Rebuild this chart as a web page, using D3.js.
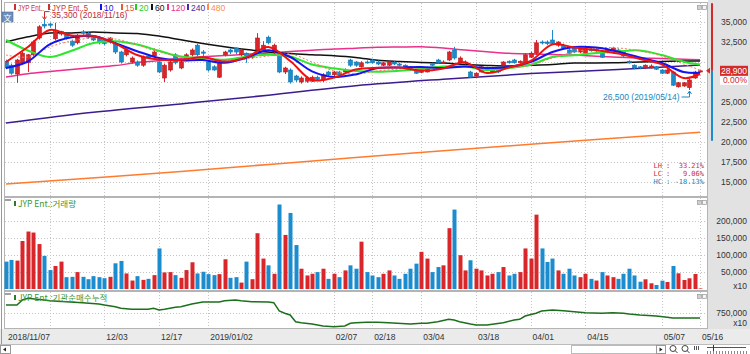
<!DOCTYPE html>
<html>
<head>
<meta charset="utf-8">
<script src="https://cdn.jsdelivr.net/npm/d3@7"></script>
<style>
body { margin: 0; background: #fff; }
svg { display: block; }
.num { font-family: "Liberation Sans", Arial, sans-serif; font-size: 8.5px; fill: #333; }
.kr { font-family: "Noto Sans CJK KR", sans-serif; font-size: 8.5px; }
.mono { font-family: "DejaVu Sans Mono", monospace; font-size: 7px; }
</style>
</head>
<body>
<svg id="chart" width="750" height="354"></svg>
<script>
// ---- data ----
var opens  = [30100,29600,28500,29900,29900,30900,33000,34700,34750,32900,33500,33400,32600,32400,33750,33600,33100,33000,32700,32500,32350,31250,30900,30000,30000,29600,30750,30750,30000,28000,29000,30900,29250,30250,30900,32100,31250,30000,29400,28100,30900,31500,31750,30900,31100,30600,31500,31500,33100,31250,31100,28750,29000,28250,27500,27600,27600,28100,27750,28750,28400,28750,28750,30250,30000,29400,30000,30250,30000,29600,29600,30000,29750,29600,29400,29000,28700,28750,29750,30250,29900,30250,31500,30000,29900,28750,28250,28750,29000,28750,29250,29600,30100,30250,29900,29900,30600,31100,32500,32500,32750,32100,32100,31500,31750,31250,31100,31600,31400,31100,31250,31500,31500,31250,30100,29600,29400,29250,29250,29400,29000,28600,28750,26900,27000,26800,28000,28750];
var highs  = [30300,29800,30400,31300,31000,32700,34600,35300,34900,34900,33900,33600,32800,33500,34000,33800,33300,33200,32900,33100,32500,31400,31700,30700,30200,30800,30900,31700,30100,29800,30200,31100,30200,31100,31700,32300,31500,30200,29600,30100,31400,31700,31800,31700,31200,31000,33600,32600,33300,32300,31300,29400,29200,28400,28200,28200,28300,28300,28600,28900,28900,28900,29200,30400,30100,30100,30200,30400,30200,30000,30100,30100,29900,29700,29500,29100,29100,29400,29900,30400,30200,31400,31900,30700,30200,28900,28700,29500,29400,29400,29400,30100,30200,30400,30200,31100,31300,32750,32700,32700,34000,32600,32300,31700,31900,31900,31800,31800,31700,31200,31700,31900,31700,31300,30200,29700,29500,29700,29700,29500,29100,29100,28900,27500,27500,27900,28900,28950];
var lows   = [29100,28400,27400,29700,28750,30700,32800,34200,34300,32700,33300,32800,31900,32200,33400,32900,32600,32200,32100,32300,31000,29800,30700,29800,29400,29400,30400,30600,28600,27500,28800,29700,29100,30100,30700,30700,30700,28800,28900,28000,30700,31000,31000,30700,29900,30400,31300,31300,32200,31000,28600,28500,27300,27500,27300,27400,27500,27700,27500,28200,28200,28300,28600,29400,29400,29300,29800,29800,29600,29500,29500,29600,29500,29300,28900,28500,28600,28700,29500,29800,29800,30100,30300,29900,29700,28000,28100,28700,28900,28600,28600,29500,29800,29800,29800,29800,30500,30900,32200,32100,32100,31900,31600,31000,31100,31100,31000,31300,31300,30500,31100,31400,31100,30600,29800,29100,29100,29100,29200,29000,28500,28500,27000,26800,26900,26500,27900,28700];
var closes = [29250,28600,30250,31100,30900,32500,34400,34500,34600,33800,33800,33000,32100,33300,33600,33100,32750,32400,32300,33000,31250,30000,31500,30500,29600,30600,30500,31250,28750,29600,30000,29900,30000,30900,31500,30900,31100,29000,29000,30000,31250,31250,31250,31500,30600,30900,33000,32100,32400,32100,28750,29250,27500,27750,28000,28000,28100,27800,28400,28400,28750,28400,29000,29600,29600,29900,29900,29900,29750,29900,30000,29750,29600,29400,29000,28600,28900,29250,29600,29900,30000,31250,30500,30500,30000,28100,28600,29400,29250,29250,28750,30000,29900,29900,30100,30900,31100,32400,32400,32300,32300,32500,31750,31100,31250,31750,31600,31400,31600,30600,31600,31750,31250,30750,29900,29250,29250,29600,29500,29100,28600,29000,27100,27400,27400,27750,28750,28900];
var volumes = [81000,86000,84000,142000,170000,167000,133000,98000,56000,68000,
  81000,35000,36000,50000,36000,29000,38000,35000,32000,36000,
  76000,83000,46000,25000,38000,27000,30000,41000,120000,49000,
  50000,41000,33000,56000,79000,46000,51000,44000,41000,44000,
  88000,33000,35000,19000,81000,29000,165000,90000,70000,45000,
  250000,160000,225000,130000,60000,40000,45000,50000,60000,30000,
  45000,35000,55000,70000,60000,140000,50000,40000,35000,45000,
  55000,40000,30000,45000,60000,75000,110000,90000,50000,65000,
  70000,180000,235000,100000,55000,85000,60000,55000,40000,45000,
  50000,65000,40000,45000,50000,120000,90000,220000,120000,80000,
  90000,55000,45000,60000,40000,35000,45000,30000,25000,50000,
  40000,35000,30000,45000,60000,40000,21600,28700,16900,11800,
  24600,20700,68000,46400,26600,31700,44400,1500];

// moving averages, read at these candle indices
var maIdx = [0,4,8,12,16,20,24,28,32,36,40,44,48,52,56,60,64,68,72,76,80,84,88,92,96,100,104,108,112,116,120,124,127];
var ma5   = [30000,31875,34000,33300,33250,32300,30875,30300,30250,30600,30050,30575,31875,30125,27750,28050,29050,29275,29300,28925,29200,29950,28625,29300,30125,32200,31800,31475,31050,30375,29700,28000,28500];
var ma10  = [29250,30063,32200,33088,33250,32350,31350,30500,30200,30250,29900,30538,31463,30625,28825,28125,28450,29250,29313,29375,29250,29438,29250,29375,30000,31250,31875,31800,31288,30563,29875,28750,28625];
var ma15  = [30875,30625,31875,32625,33000,32875,32125,31250,30625,30250,30125,30375,30750,31000,30000,28875,28500,28875,29125,29250,29250,29375,29250,29250,29625,30500,31250,31750,31750,31375,30750,29750,29000];
var ma20  = [32750,31438,30625,31413,32375,32600,32175,31400,30675,30500,30275,30663,30913,30688,29688,29213,28875,28775,28900,29138,29425,29425,28975,29250,29650,30625,30838,31125,31325,31438,30875,30038,29688];
var ma60  = [32500,33150,33625,33625,33750,33625,33563,33250,32775,32313,31900,31550,31250,31050,30913,30788,30575,30225,30063,29938,29875,29700,29575,29500,29588,29700,29875,29875,29913,30000,30075,30125,30125];
var ma120 = [28125,28538,28813,29063,29300,29550,29925,30163,30463,30650,30813,30963,31125,31300,31463,31625,31725,31838,31875,31900,31750,31500,31288,31088,31000,30938,30875,30713,30588,30500,30425,30338,30275];
var ma240Idx = [0,16,32,48,64,80,96,112,127];
var ma240 = [22375,23713,24763,25850,27025,27850,28550,29063,29625];
var ma480Idx = [0,32,64,96,127];
var ma480 = [14750,16313,18075,19725,21225];

// institutional net buying, cumulative
var instIdx = [0,2,3,4,7,8,11,14,17,18,20,21,23,26,27,28,29,31,32,34,36,39,40,42,43,45,48,49,50,51,52,53,54,56,58,60,62,63,64,66,68,70,74,76,77,79,81,82,83,85,86,88,89,91,93,94,95,97,98,100,102,104,106,109,111,113,114,116,119,121,122,127];
var instVal = [950000,950000,1075000,1117500,1075000,1057500,1032500,1007500,975000,950000,907500,867500,842500,842500,867500,825000,842500,892500,907500,975000,1025000,1025000,1057500,1075000,1057500,1032500,1025000,1007500,800000,745000,700000,532500,507500,475000,425000,407500,425000,492500,507500,517500,517500,507500,475000,492500,492500,532500,592500,575000,532500,475000,450000,450000,467500,507500,575000,592500,675000,742500,800000,825000,807500,782500,757500,742500,757500,742500,725000,700000,675000,642500,625000,625000];

var tickIdx    = [0,18,28,37,60,67,76,86,96,106,120,127];
var tickLabels = ["2018/11/07","12/03","12/17","2019/01/02","02/07","02/18","03/04","03/18","04/01","04/15","05/07","05/16"];
var gridIdx    = [8,18,28,37,60,67,76,86,96,106,120,127];

var priceTicks = [35000,32500,30000,27500,25000,22500,20000,17500,15000];
var volTicks   = [50000,100000,150000,200000];
var instTicks  = [750000];

var lastPrice = 28900, upperLimit = 37350, lowerLimit = 20150;
var highMark = {i: 7, v: 35300, label: "35,300 (2018/11/16)"};
var lowMark  = {i: 125, v: 26500, label: "26,500 (2019/05/14)"};
var statRows = ["LH :  33.21%", "LC :   9.06%", "HC : -18.13%"];
var legendNames = ["JYP Ent..", "JYP Ent..5", "10", "15", "20", "60", "120", "240", "480"];

// ---- layout ----
var N = closes.length;
var svg = d3.select("#chart");
var fmt = d3.format(",");
var UP = "#d9262a", DOWN = "#1b8ccd";
var panL = 4, panR = 707;
var main = {top: 2, bottom: 196}, vol = {top: 197, bottom: 290}, inst = {top: 291, bottom: 328};

var x = d3.scaleLinear().domain([0, 127]).range([6, 700]);
var yPrice = d3.scaleLinear().domain([15000, 35000]).range([182, 22]);
var yVol = d3.scaleLinear().domain([0, 200000]).range([289, 221.4]);
var yInst = d3.scaleLinear().domain([375000, 750000]).range([328, 313]);

// backgrounds
svg.append("rect").attr("width", 750).attr("height", 354).attr("fill", "#fff");
svg.append("rect").attr("x", 708).attr("y", 0).attr("width", 42).attr("height", 344).attr("fill", "#e2e2e2");
svg.append("rect").attr("x", 0).attr("y", 329).attr("width", 750).attr("height", 15).attr("fill", "#ebebeb");
svg.append("line").attr("x1", 1.5).attr("x2", 1.5).attr("y1", 0).attr("y2", 344).attr("stroke", "#7f9cc6");

[main, vol, inst].forEach(function(p) {
  svg.append("rect").attr("x", panL + 0.5).attr("y", p.top + 0.5)
    .attr("width", panR - panL).attr("height", p.bottom - p.top)
    .attr("fill", "#fff").attr("stroke", "#b4b4b4");
  [697, 702].forEach(function(bx, k) {
    svg.append("rect").attr("x", bx + 0.5).attr("y", p.top + 3.5).attr("width", 4).attr("height", 4)
      .attr("fill", k ? "#f4f4f4" : "#d0d0d0").attr("stroke", "#999").attr("stroke-width", 0.7);
  });
});

// gridlines
var grid = svg.append("g").attr("stroke", "#c4c4c4").attr("stroke-dasharray", "1,2");
grid.selectAll(".gp").data(priceTicks).enter().append("line")
  .attr("x1", panL + 1).attr("x2", panR).attr("y1", d => Math.round(yPrice(d)) + 0.5).attr("y2", d => Math.round(yPrice(d)) + 0.5);
grid.selectAll(".gv").data(volTicks).enter().append("line")
  .attr("x1", panL + 1).attr("x2", panR).attr("y1", d => Math.round(yVol(d)) + 0.5).attr("y2", d => Math.round(yVol(d)) + 0.5);
grid.selectAll(".gi").data(instTicks).enter().append("line")
  .attr("x1", panL + 1).attr("x2", panR).attr("y1", d => Math.round(yInst(d)) + 0.5).attr("y2", d => Math.round(yInst(d)) + 0.5);
[main, vol, inst].forEach(function(p) {
  grid.append("g").selectAll("line").data(gridIdx).enter().append("line")
    .attr("x1", i => Math.round(x(i)) + 0.5).attr("x2", i => Math.round(x(i)) + 0.5)
    .attr("y1", p.top + 1).attr("y2", p.bottom);
});

// clip for main panel
svg.append("clipPath").attr("id", "clipMain").append("rect")
  .attr("x", panL + 1).attr("y", main.top + 1).attr("width", panR - panL - 1).attr("height", main.bottom - main.top - 1);
var mainG = svg.append("g").attr("clip-path", "url(#clipMain)");

function maLine(idx, vals, color, w, dash) {
  var pts = idx.map((d, k) => [d, vals[k]]);
  mainG.append("path").datum(pts)
    .attr("d", d3.line().x(d => x(d[0])).y(d => yPrice(d[1])).curve(d3.curveCatmullRom))
    .attr("fill", "none").attr("stroke", color).attr("stroke-width", w)
    .attr("stroke-dasharray", dash || null);
}
// long moving averages (behind candles)
maLine(ma480Idx, ma480, "#ff7b2e", 1.5);
maLine(ma240Idx, ma240, "#3d1c8f", 1.5);
maLine(maIdx, ma120, "#ec2f8c", 1.5);
maLine(maIdx, ma60, "#111", 1.5);

// candles
var cg = mainG.append("g");
cg.selectAll("line").data(d3.range(N)).enter().append("line")
  .attr("x1", i => Math.round(x(i)) + 0.5).attr("x2", i => Math.round(x(i)) + 0.5)
  .attr("y1", i => yPrice(highs[i])).attr("y2", i => yPrice(lows[i]))
  .attr("stroke", i => closes[i] >= opens[i] ? UP : DOWN);
cg.selectAll("rect").data(d3.range(N)).enter().append("rect")
  .attr("x", i => Math.round(x(i)) - 1.5)
  .attr("y", i => yPrice(Math.max(opens[i], closes[i])))
  .attr("width", 4)
  .attr("height", i => Math.max(1, Math.abs(yPrice(opens[i]) - yPrice(closes[i]))))
  .attr("fill", i => closes[i] >= opens[i] ? UP : DOWN)
  .attr("stroke", i => closes[i] >= opens[i] ? "#b51d20" : "#1676ad").attr("stroke-width", 0.6);

// short moving averages
maLine(maIdx, ma20, "#2ee62e", 2);
maLine(maIdx, ma15, "#f47a5a", 1, "2,2");
maLine(maIdx, ma10, "#1414ee", 2);
maLine(maIdx, ma5, "#f01010", 2);

// legend (drawn before the high marker, which overlaps it as in the original)
var lgX = [14, 48, 100, 121, 135, 151, 167, 187, 207];
var lgW = [26, 36, 0, 0, 0, 0, 0, 0, 0];
var lgC = ["#c83232", "#c83232", "#1414ee", "#e85a3a", "#22d022", "#111", "#ec2f8c", "#4a2aa0", "#ff8a4a"];
var lg = svg.append("g");
legendNames.forEach(function(t, k) {
  lg.append("rect").attr("x", lgX[k]).attr("y", 4).attr("width", 2).attr("height", 6).attr("fill", lgC[k]);
  var tx = lg.append("text").attr("class", "num").attr("x", lgX[k] + 4).attr("y", 10.5).style("fill", lgC[k]).text(t);
  if (lgW[k]) tx.attr("textLength", lgW[k]).attr("lengthAdjust", "spacingAndGlyphs");
});
svg.append("rect").attr("x", 2).attr("y", 12).attr("width", 11).attr("height", 10).attr("fill", "#6f8fbd").attr("stroke", "#4a6a98").attr("stroke-width", 0.6);
svg.append("text").attr("class", "kr").attr("x", 7.5).attr("y", 20.5).attr("text-anchor", "middle").style("fill", "#fff").style("font-size", "8px").text("文");

// high / low markers
var hx = Math.round(x(highMark.i)) + 0.5, hy = yPrice(highMark.v);
svg.append("path").attr("d", "M" + (hx + 5) + "," + (hy - 8) + "H" + hx + "V" + (hy - 1))
  .attr("fill", "none").attr("stroke", "#c32a2a");
svg.append("path").attr("d", "M" + (hx - 2) + "," + (hy - 3) + "L" + hx + "," + hy + "L" + (hx + 2) + "," + (hy - 3))
  .attr("fill", "none").attr("stroke", "#c32a2a");
svg.append("text").attr("class", "num").attr("x", hx + 7).attr("y", hy - 2)
  .style("fill", "#c32a2a").text(highMark.label);

var lx = Math.round(x(lowMark.i)) + 0.5, ly = yPrice(lowMark.v);
svg.append("path").attr("d", "M" + (lx - 8) + "," + (ly + 7) + "H" + lx + "V" + (ly + 1))
  .attr("fill", "none").attr("stroke", "#2187c0");
svg.append("path").attr("d", "M" + (lx - 2) + "," + (ly + 4) + "L" + lx + "," + (ly + 1) + "L" + (lx + 2) + "," + (ly + 4))
  .attr("fill", "none").attr("stroke", "#2187c0");
svg.append("text").attr("class", "num").attr("x", lx - 10).attr("y", ly + 9.5).attr("text-anchor", "end")
  .style("fill", "#2187c0").text(lowMark.label);

// LH / LC / HC
svg.append("g").selectAll("text").data(statRows).enter().append("text")
  .attr("class", "mono").attr("x", 704).attr("y", (d, k) => 168 + k * 8).attr("text-anchor", "end")
  .attr("xml:space", "preserve")
  .style("fill", (d, k) => k < 2 ? "#c83232" : "#2187c0").text(d => d);

// price axis labels
svg.append("g").selectAll("text").data(priceTicks.filter(d => Math.abs(yPrice(d) - yPrice(lastPrice)) > 12)).enter().append("text")
  .attr("class", "num").attr("x", 747).attr("y", d => yPrice(d) + 3).attr("text-anchor", "end").text(d => fmt(d));

// limit band and current price tag
svg.append("rect").attr("x", 711).attr("y", yPrice(upperLimit)).attr("width", 2)
  .attr("height", yPrice(lastPrice) - yPrice(upperLimit)).attr("fill", "#d42a2a");
svg.append("rect").attr("x", 711).attr("y", yPrice(lastPrice)).attr("width", 2)
  .attr("height", yPrice(lowerLimit) - yPrice(lastPrice)).attr("fill", "#1b8ccd");
var py = yPrice(lastPrice);
svg.append("path").attr("d", "M706," + py + "L710," + (py - 3) + "L710," + (py + 3) + "Z").attr("fill", "#d42a2a");
svg.append("rect").attr("x", 720).attr("y", py - 5).attr("width", 28).attr("height", 10).attr("fill", "#d42a2a");
svg.append("text").attr("class", "num").attr("x", 747).attr("y", py + 3).attr("text-anchor", "end").style("fill", "#fff").text(fmt(lastPrice));
svg.append("rect").attr("x", 720).attr("y", py + 5.5).attr("width", 28).attr("height", 8.5).attr("fill", "#fff");
svg.append("text").attr("class", "num").attr("x", 747).attr("y", py + 12.5).attr("text-anchor", "end").style("fill", "#d42a2a").text("0.00%");

// volume
svg.append("g").selectAll("rect").data(d3.range(N)).enter().append("rect")
  .attr("x", i => Math.round(x(i)) - 1.5).attr("width", 4)
  .attr("y", i => yVol(volumes[i])).attr("height", i => yVol(0) - yVol(volumes[i]))
  .attr("fill", i => closes[i] >= opens[i] ? UP : DOWN);
svg.append("g").selectAll("text").data(volTicks).enter().append("text")
  .attr("class", "num").attr("x", 747).attr("y", d => yVol(d) + 3).attr("text-anchor", "end").text(d => fmt(d));
svg.append("text").attr("class", "num").attr("x", 747).attr("y", 289).attr("text-anchor", "end").text("x10");

// institutional cumulative
var instPts = instIdx.map((d, k) => [d, instVal[k]]);
svg.append("path").datum(instPts)
  .attr("d", d3.line().x(d => x(d[0])).y(d => yInst(d[1])))
  .attr("fill", "none").attr("stroke", "#1c6f1c").attr("stroke-width", 1.5);
svg.append("g").selectAll("text").data(instTicks).enter().append("text")
  .attr("class", "num").attr("x", 747).attr("y", d => yInst(d) + 3).attr("text-anchor", "end").text(d => fmt(d));
svg.append("text").attr("class", "num").attr("x", 747).attr("y", 326).attr("text-anchor", "end").text("x10");

// panel titles
[[vol.top, "JYP Ent.:거래량"], [inst.top, "JYP Ent.:기관순매수누적"]].forEach(function(t) {
  svg.append("rect").attr("x", 5).attr("y", t[0] + 2).attr("width", 6).attr("height", 2).attr("fill", "#a0a0a0");
  svg.append("rect").attr("x", 14).attr("y", t[0] + 4).attr("width", 2).attr("height", 5).attr("fill", "#2a7a2a");
  svg.append("text").attr("class", "kr").attr("x", 18).attr("y", t[0] + 10).style("fill", "#3a963a").text(t[1]);
});

// date axis
svg.append("g").selectAll("text").data(tickIdx).enter().append("text")
  .attr("class", "num").attr("x", i => x(i) + 2).attr("y", 339.5).text((d, k) => tickLabels[k]);

// bottom toolbar
svg.append("rect").attr("x", 0).attr("y", 344).attr("width", 750).attr("height", 10).attr("fill", "#fff");
svg.append("line").attr("x1", 0).attr("x2", 750).attr("y1", 344.5).attr("y2", 344.5).attr("stroke", "#bcbcbc");
svg.append("rect").attr("x", 0.5).attr("y", 345.5).attr("width", 10).attr("height", 8).attr("fill", "#fff").attr("stroke", "#999");
svg.append("path").attr("d", "M3,349.5L6,347.5L6,351.5Z").attr("fill", "#222");
svg.append("rect").attr("x", 571.5).attr("y", 345.5).attr("width", 85).attr("height", 8).attr("fill", "#fff").attr("stroke", "#bbb");
svg.append("rect").attr("x", 656.5).attr("y", 345.5).attr("width", 9).attr("height", 8).attr("fill", "#fff").attr("stroke", "#999");
svg.append("path").attr("d", "M659.5,347.5L662.5,349.5L659.5,351.5Z").attr("fill", "#222");
[673, 685].forEach(function(cx) {
  svg.append("circle").attr("cx", cx).attr("cy", 348.5).attr("r", 3).attr("fill", "none").attr("stroke", "#444");
  svg.append("line").attr("x1", cx + 2).attr("y1", 350.5).attr("x2", cx + 4.5).attr("y2", 353).attr("stroke", "#444");
});
svg.append("g").selectAll("line").data([694, 696, 698]).enter().append("line")
  .attr("x1", d => d + 0.5).attr("x2", d => d + 0.5).attr("y1", 346).attr("y2", 350).attr("stroke", "#555");
svg.append("line").attr("x1", 707).attr("x2", 746).attr("y1", 347.5).attr("y2", 347.5).attr("stroke", "#555");
svg.append("line").attr("x1", 713.5).attr("x2", 713.5).attr("y1", 345).attr("y2", 351).attr("stroke", "#333");
svg.append("g").selectAll("line").data(d3.range(707, 747, 3)).enter().append("line")
  .attr("x1", d => d + 0.5).attr("x2", d => d + 0.5).attr("y1", 351).attr("y2", 354).attr("stroke", "#888");
</script>
</body>
</html>
